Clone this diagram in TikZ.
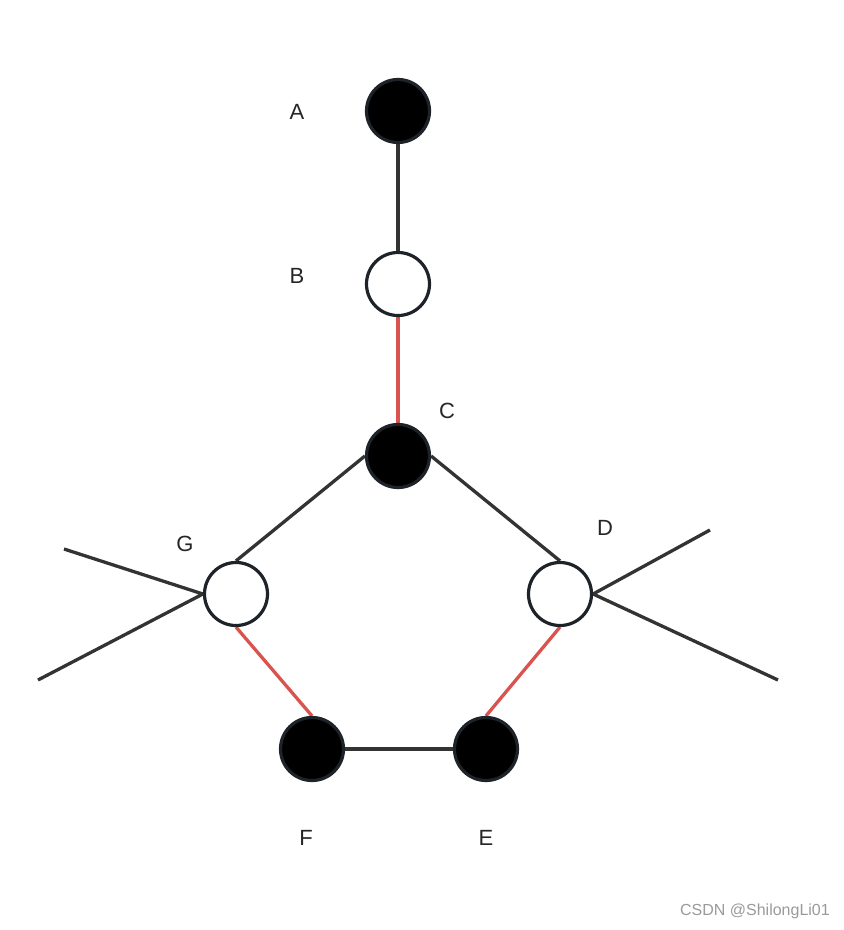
\documentclass[tikz,border=0pt]{standalone}
\usepackage{fontspec}
\setmainfont{Liberation Sans}
\usetikzlibrary{backgrounds}
\definecolor{nodeline}{HTML}{1E2329}
\definecolor{edgeblack}{HTML}{333333}
\definecolor{edgered}{HTML}{D9534F}
\definecolor{wm}{HTML}{9A9A9A}
\begin{document}
\begin{tikzpicture}[x=1pt,y=-1pt,
  vtx/.style={circle,draw=nodeline,line width=3.2pt,minimum size=63pt,inner sep=0pt},
  blackv/.style={vtx,fill=black},
  whitev/.style={vtx,fill=white},
  lbl/.style={font=\fontsize{22}{26}\selectfont,text=black!85},
  eb/.style={draw=edgeblack,line width=3.3pt},
  er/.style={draw=edgered,line width=3.3pt}]
\useasboundingbox (0,0) rectangle (844,930);
\coordinate (g1) at (64,549);
\coordinate (g2) at (38,680);
\coordinate (d1) at (710,530);
\coordinate (d2) at (778,680);
\node[blackv] (A) at (398,111) {};
\node[whitev] (B) at (398,284) {};
\node[blackv] (C) at (398,456) {};
\node[whitev] (G) at (236,594) {};
\node[whitev] (D) at (560,594) {};
\node[blackv] (F) at (312,749) {};
\node[blackv] (E) at (486,749) {};
\begin{scope}[on background layer]
\fill[white] (0,0) rectangle (844,930);
\path[eb] (A.south) -- (B.north);
\path[er] (B.south) -- (C.north);
\path[eb] (C.west) -- (G.north);
\path[eb] (C.east) -- (D.north);
\path[er] (G.south) -- (F.north);
\path[er] (D.south) -- (E.north);
\path[eb] (F.east) -- (E.west);
\path[eb] (g1) -- (G.west) -- (g2);
\path[eb] (d1) -- (D.east) -- (d2);
\end{scope}
% labels
\node[lbl] (lA) at (297,112) {A};
\node[lbl] (lB) at (297,276) {B};
\node[lbl] (lC) at (447,411) {C};
\node[lbl] (lG) at (185,544) {G};
\node[lbl] (lD) at (605,528) {D};
\node[lbl] (lF) at (306,838) {F};
\node[lbl] (lE) at (486,838) {E};
\node[text=wm,font=\fontsize{16}{19}\selectfont] (wmk) at (755,911) {CSDN @ShilongLi01};
\end{tikzpicture}
\end{document}
